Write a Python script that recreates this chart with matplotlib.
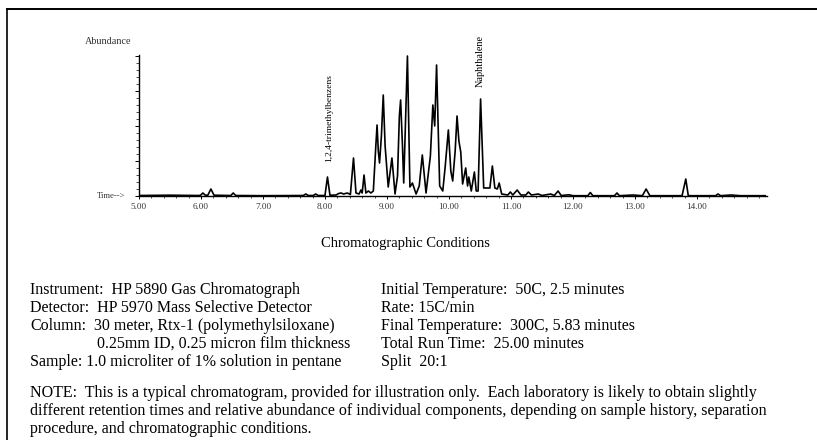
import matplotlib
matplotlib.use("Agg")
import matplotlib.pyplot as plt
from matplotlib.lines import Line2D
from matplotlib.ticker import MultipleLocator

tiempo = [5.00, 5.50, 5.95, 5.99, 6.03, 6.07, 6.11, 6.16, 6.21, 6.48, 6.52, 6.56,
          7.00, 7.65, 7.69, 7.73, 7.81, 7.85, 7.89, 8.00, 8.04, 8.08, 8.18, 8.22,
          8.26, 8.30, 8.36, 8.41, 8.46, 8.50, 8.55, 8.58, 8.60, 8.63, 8.66, 8.70,
          8.74, 8.78, 8.82, 8.84, 8.86, 8.88, 8.91, 8.94, 8.97, 9.02, 9.08, 9.13,
          9.17, 9.20, 9.22, 9.25, 9.27, 9.33, 9.37, 9.41, 9.47, 9.52, 9.57, 9.63,
          9.70, 9.74, 9.77, 9.80, 9.85, 9.90, 9.94, 9.99, 10.03, 10.06, 10.10, 10.13,
          10.16, 10.19, 10.22, 10.27, 10.30, 10.32, 10.36, 10.41, 10.44, 10.47, 10.51,
          10.56, 10.62, 10.66, 10.70, 10.74, 10.78, 10.81, 10.85, 10.95, 10.99, 11.03,
          11.10, 11.16, 11.24, 11.28, 11.33, 11.44, 11.50, 11.64, 11.70, 11.76, 11.81,
          11.94, 12.00, 12.24, 12.28, 12.32, 12.67, 12.71, 12.75, 12.97, 13.12, 13.18,
          13.24, 13.76, 13.82, 13.86, 14.30, 14.34, 14.38, 14.55, 14.70, 15.10]
abundancia = [0.5, 0.8, 0.5, 0.6, 3, 0.8, 0.8, 7, 0.8, 0.5, 3, 0.5,
              0.3, 0.5, 2, 0.5, 0.5, 2, 0.5, 0.5, 19, 0.8, 1, 2.5,
              3, 2, 3, 1.5, 38, 3, 2, 6, 3, 21, 3, 5,
              3, 5, 50, 71, 45, 33, 60, 101, 50, 9, 38, 2,
              20, 80, 96, 50, 13, 140, 9, 13, 2, 10, 41, 3,
              40, 91, 70, 131, 10, 5, 30, 66, 25, 15, 45, 80,
              55, 44, 12, 28, 10, 19, 5, 24, 5, 5, 97,
              8, 8, 8, 30, 8, 7, 13, 2, 1, 4, 1,
              6, 1, 1, 4, 1, 2, 0.5, 2, 0.5, 5, 0.5,
              1.2, 0.3, 0.3, 3.5, 0.3, 0.3, 3, 0.3, 1, 0.3, 7,
              0.3, 0.3, 17, 0.3, 0.3, 2, 0.3, 1, 0.3, 0.3]

ticks_x = [5, 6, 7, 8, 9, 10, 11, 12, 13, 14]
etiquetas_x = ["5.00", "6.00", "7.00", "8.00", "9.00", "10.00", "11.00", "12.00", "13.00", "14.00"]

picos = [("1,2,4-trimethylbenzens", 8.07, 34, 6.8), ("Naphthalene", 10.50, 109, 7.4)]

izquierda = ["Instrument:  HP 5890 Gas Chromatograph",
             "Detector:  HP 5970 Mass Selective Detector",
             "Column:    30 meter, Rtx-1 (polymethylsiloxane)",
             "           0.25mm ID, 0.25 micron film thickness",
             "Sample: 1.0 microliter of 1% solution in pentane"]
derecha = ["Initial Temperature:  50C, 2.5 minutes",
           "Rate: 15C/min",
           "Final Temperature:  300C, 5.83 minutes",
           "Total Run Time:  25.00 minutes",
           "Split  20:1"]
nota = ["NOTE:  This is a typical chromatogram, provided for illustration only.  Each laboratory is likely to obtain slightly",
        "different retention times and relative abundance of individual components, depending on sample history, separation",
        "procedure, and chromatographic conditions."]

W, H = 817, 440
plt.rcParams["font.family"] = ["Liberation Serif", "DejaVu Serif"]

fig = plt.figure(figsize=(W / 100, H / 100), dpi=100)
fig.patch.set_facecolor("white")

def px(x, y):
    return x / W, 1 - y / H

# ejes del cromatograma
x0, y0, x1, y1 = 139, 55, 767, 196
ax = fig.add_axes([x0 / W, 1 - y1 / H, (x1 - x0) / W, (y1 - y0) / H])
ax.plot(tiempo, abundancia, color="black", lw=1.2)
ax.set_xlim(5.0, 15.13)
ax.set_ylim(0, 141)
for s in ["top", "right"]:
    ax.spines[s].set_visible(False)
ax.spines["left"].set_linewidth(1.0)
ax.spines["bottom"].set_linewidth(1.0)
ax.set_xticks(ticks_x)
ax.set_xticklabels(etiquetas_x)
ax.xaxis.set_minor_locator(MultipleLocator(0.2))
ax.tick_params(axis="x", which="major", length=2, width=0.7, pad=3, labelsize=6.6, labelcolor="#333333")
ax.tick_params(axis="x", which="minor", length=1.2, width=0.5)
ax.yaxis.set_major_locator(MultipleLocator(35))
ax.yaxis.set_minor_locator(MultipleLocator(7))
ax.tick_params(axis="y", which="major", length=3, width=0.7, labelleft=False)
ax.tick_params(axis="y", which="minor", length=2, width=0.5)

for nombre, t, h, tam in picos:
    ax.text(t, h, nombre, rotation=90, ha="center", va="bottom", fontsize=tam)

fig.text(*px(108, 42), "Abundance", fontsize=7.3, ha="center", va="center", color="#333333")
fig.text(*px(111, 196), "Time-->", fontsize=6.2, ha="center", va="center", color="#333333")

# texto de condiciones
fs = 11.5
fig.text(*px(405, 243), "Chromatographic Conditions", fontsize=10.5, ha="center", va="center")
ys = [290, 308, 326, 344, 362]
for y, a, b in zip(ys, izquierda, derecha):
    if a.startswith(" "):
        fig.text(*px(97, y), a.strip(), fontsize=fs, ha="left", va="center")
    elif a.startswith("Column"):
        fig.text(*px(30, y), "Column:", fontsize=fs, ha="left", va="center")
        fig.text(*px(94, y), a.split(":", 1)[1].strip(), fontsize=fs, ha="left", va="center")
    else:
        fig.text(*px(30, y), a, fontsize=fs, ha="left", va="center")
    fig.text(*px(381, y), b, fontsize=fs, ha="left", va="center")
for y, linea in zip([393, 411, 429], nota):
    fig.text(*px(30, y), linea, fontsize=fs, ha="left", va="center")

# marco del escaneo (solo arriba e izquierda)
fig.add_artist(Line2D([7 / W, 1], [1 - 9 / H, 1 - 9 / H], color="black", lw=1.4))
fig.add_artist(Line2D([7 / W, 7 / W], [1 - 9 / H, 0], color="black", lw=1.2))

fig.savefig("out.png", dpi=100)
